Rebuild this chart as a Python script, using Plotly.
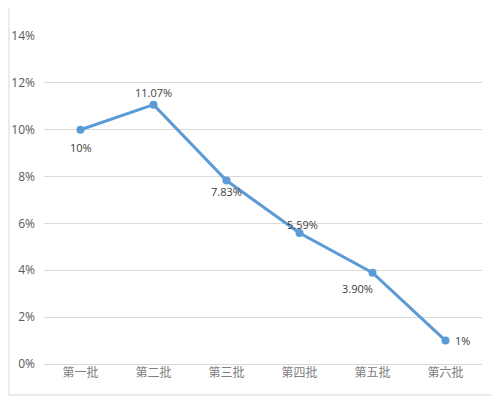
import plotly.graph_objects as go

categories = ["第一批", "第二批", "第三批", "第四批", "第五批", "第六批"]
values = [10, 11.07, 7.83, 5.59, 3.90, 1]
labels = ["10%", "11.07%", "7.83%", "5.59%", "3.90%", "1%"]
y_ticks = [0, 2, 4, 6, 8, 10, 12, 14]
y_tick_labels = ["0%", "2%", "4%", "6%", "8%", "10%", "12%", "14%"]

label_xshift = [0, 0, 0, 3, -15, 17]
label_yshift = [-18, 12, -11, 9, -16, 0]

fig = go.Figure()
fig.add_trace(go.Scatter(
    x=list(range(len(categories))), y=values, mode="lines+markers",
    line=dict(color="#5B9BD5", width=3),
    marker=dict(color="#5B9BD5", size=8),
    hoverinfo="skip", showlegend=False,
))

for i, (v, t) in enumerate(zip(values, labels)):
    fig.add_annotation(
        x=i, y=v, text=t, showarrow=False,
        xshift=label_xshift[i], yshift=label_yshift[i],
        font=dict(family="Open Sans, Noto Sans, sans-serif", size=11, color="#404040"),
    )

fig.add_shape(type="rect", xref="paper", yref="paper",
              x0=-0.080, x1=1.034, y0=-0.0945, y1=1.2,
              line=dict(color="#D9D9D9", width=1), layer="below")

fig.update_layout(
    width=492, height=392,
    margin=dict(l=36, r=18, t=28, b=36, autoexpand=False),
    paper_bgcolor="white", plot_bgcolor="white",
    xaxis=dict(
        tickmode="array", tickvals=list(range(len(categories))), ticktext=categories,
        range=[-0.5, len(categories) - 0.5], showgrid=False, zeroline=False,
        showline=False, ticks="", automargin=False,
        tickfont=dict(family="Noto Sans CJK SC", size=12, color="#808080"),
    ),
    yaxis=dict(
        tickmode="array", tickvals=y_ticks, ticktext=y_tick_labels,
        range=[0, 14], showgrid=True, gridcolor="#D9D9D9", gridwidth=1,
        zeroline=True, zerolinecolor="#D9D9D9", zerolinewidth=1,
        showline=False, ticks="", ticklabelstandoff=8, automargin=False,
        tickfont=dict(family="Open Sans, Noto Sans, sans-serif", size=12, color="#595959"),
    ),
)

fig.write_html("out.html")
